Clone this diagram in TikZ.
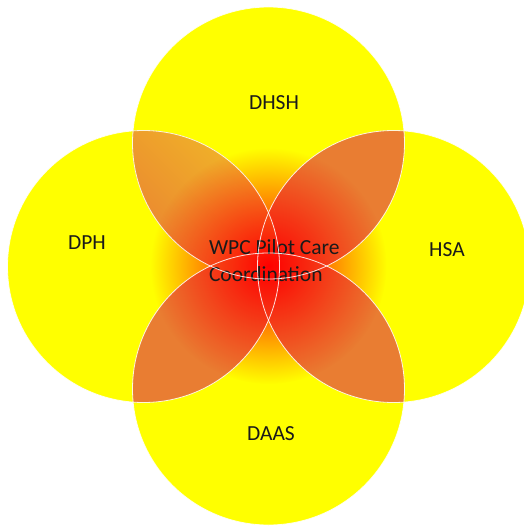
\documentclass[tikz,border=0pt]{standalone}
\usepackage{fontspec}
\setmainfont{Carlito}
\usetikzlibrary{fadings}
\definecolor{vennyellow}{HTML}{FFFF00}
\definecolor{lensorange}{HTML}{E97D32}
\definecolor{tipyellow}{HTML}{F2BE26}
\definecolor{labelgray}{HTML}{1A1A1A}
\tikzfading[name=glowfade, inner color=transparent!0, outer color=transparent!100]
\tikzset{
  vennlabel/.style={font=\fontsize{21.5}{27}\selectfont, text=labelgray},
  ring/.style={draw=white, line width=0.8pt, draw opacity=0.85}
}

\begin{document}
\begin{tikzpicture}[x=1pt,y=-1pt]
\useasboundingbox (0,0) rectangle (523,527);
\coordinate (mid) at (268.5,266);
\coordinate (dhsh) at (268.5,143);
\coordinate (daas) at (268.5,389);
\coordinate (dph) at (143.5,266.5);
\coordinate (hsa) at (393.5,266.5);
% yellow circles
\foreach \c in {dhsh,daas,dph,hsa}
  \fill[vennyellow] (\c) circle (136pt);
% orange overlaps
\foreach \a in {dhsh,daas} {
  \foreach \b in {dph,hsa} {
    \begin{scope}
      \clip (\a) circle (136pt);
      \fill[lensorange] (\b) circle (136pt);
    \end{scope}
  }
}
% lighter tip of the upper left overlap
\begin{scope}
  \clip (dhsh) circle (136pt);
  \clip (dph) circle (136pt);
  \shade[left color=tipyellow, right color=lensorange, shading angle=-45] (95,95) rectangle (275,275);
\end{scope}
% red glow in the middle
\fill[red, path fading=glowfade] (mid) circle (118pt);
% labels
\node[vennlabel] (dhshlabel) at (274,103) {DHSH};
\node[vennlabel] (dphlabel) at (87,243) {DPH};
\node[vennlabel] (hsalabel) at (447,250) {HSA};
\node[vennlabel] (daaslabel) at (271,434) {DAAS};
\node[vennlabel, align=left, anchor=west] (wpclabel) at (205.5,261) {WPC Pilot Care\\Coordination};
% white outlines
\foreach \c in {dhsh,daas,dph,hsa}
  \draw[ring] (\c) circle (136pt);
\end{tikzpicture}
\end{document}
